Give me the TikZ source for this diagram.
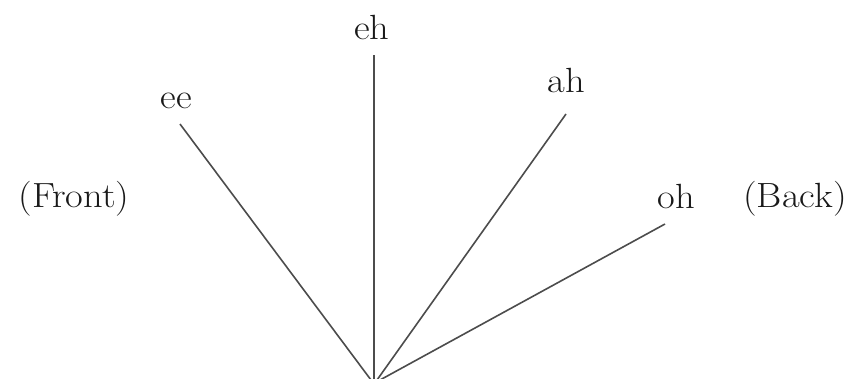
\documentclass[tikz,border=0pt]{standalone}
\usepackage{graphicx}
\newcommand{\wtxt}[1]{\scalebox{1.1}[1]{#1}}
\begin{document}
\begin{tikzpicture}[x=1pt,y=-1pt,
  lbl/.style={font=\fontsize{35}{40}\selectfont, anchor=base, inner sep=0pt, text=black!90},
  ray/.style={line width=1.6pt, draw=black!70}]
\useasboundingbox (0,0) rectangle (854,378);
\node[lbl] (ee) at (176,108) {\wtxt{ee}};
\node[lbl] (eh) at (372,39) {\wtxt{eh}};
\node[lbl] (ah) at (566,92) {\wtxt{ah}};
\node[lbl] (oh) at (676,208) {\wtxt{oh}};
\node[lbl] (front) at (74,207) {\wtxt{(Front)}};
\node[lbl] (back) at (795,207) {\wtxt{(Back)}};
\coordinate (eetop) at (180,124);
\coordinate (ehtop) at (374,55);
\coordinate (ahtop) at (566,114);
\coordinate (ohtop) at (665,224);
\coordinate (b1) at (371,380);
\coordinate (b2) at (374,380);
\coordinate (b3) at (377,380);
\coordinate (b4) at (380,380);
\draw[ray] (eetop) -- (b1);
\draw[ray] (ehtop) -- (b2);
\draw[ray] (ahtop) -- (b3);
\draw[ray] (ohtop) -- (b4);
\end{tikzpicture}
\end{document}
